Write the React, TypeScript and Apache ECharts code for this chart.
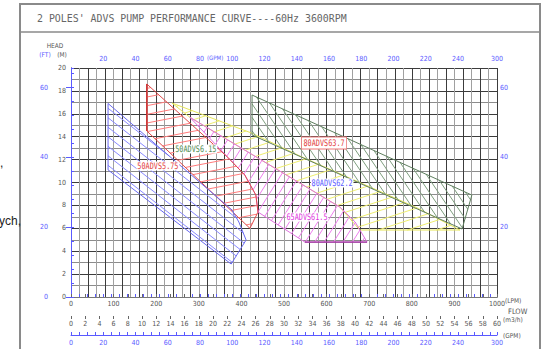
import { useEffect, useRef } from 'react';
import * as echarts from 'echarts';

// ---------- data ----------
const LPM_PER_GPM = 3.78541;
const FT_PER_M = 3.28084;
const LPM_MAX = 1000;
const HEAD_MAX = 20;
const GPM_MAX = LPM_MAX / LPM_PER_GPM;
const FT_MAX = HEAD_MAX * FT_PER_M;

const title = "2 POLES' ADVS PUMP PERFORMANCE CURVE----60Hz 3600RPM";
const lpmLabels = [0, 100, 200, 300, 400, 500, 600, 700, 800, 900, 1000];
const headLabels = [0, 2, 4, 6, 8, 10, 12, 14, 16, 18, 20];
const m3hLabels = [0, 2, 4, 6, 8, 10, 12, 14, 16, 18, 20, 22, 24, 26, 28, 30, 32, 34, 36, 38, 40, 42, 44, 46, 48, 50, 52, 54, 56, 58, 60];
const gpmLabels = [0, 20, 40, 60, 80, 100, 120, 140, 160, 180, 200, 220, 240];
const gpmEndLabel = '300';
const ftLeftLabels = [0, 20, 40, 60];
const ftRightLabels = [20, 40, 60];

// operating regions, [flow LPM, head m]
const bluePoly = [[87, 16.9], [378, 7.6], [394, 6.55], [411, 4.98], [376, 2.88], [87, 11.1]];
const redPoly = [[178, 18.6], [368, 12.2], [408, 10.65], [434, 8.9], [439, 7.42], [420, 6.0], [178, 14.5]];
const yellowPoly = [[237, 16.94], [425, 14.3], [538, 12.3], [808, 7.86], [913, 5.85], [678, 5.85], [631, 7.86], [279, 15.7]];
const magentaPoly = [[279, 15.7], [631, 7.86], [667, 6.55], [695, 4.8], [549, 4.8], [439, 7.42], [434, 8.9], [408, 10.65], [368, 12.2]];
const greenPoly = [[425, 17.64], [941, 8.9], [918, 5.94], [425, 14.15]];

const labelTexts = ['50ADVS5.75', '50ADVS6.15', '80ADVS63.7', '80ADVS62.2', '65ADVS61.5'];
const labelFlow = [204, 293, 594, 613, 554];
const labelHead = [11.44, 12.93, 13.45, 9.96, 6.99];

// ---------- styles ----------
const FONT = "'DejaVu Sans Condensed','Liberation Sans Narrow','Liberation Sans',sans-serif";
const MONO = "'DejaVu Sans Mono','Liberation Mono',monospace";
const BLUE = '#5a5aff';
const GREY = '#555';

const labelColors = ['#e23c3c', '#4f8a4f', '#e23c3c', '#5a5aff', '#dd33dd'];
const labelBorders = ['', '', '#ee7777', '', ''];

type PolyStyle = {
  pts: number[][];
  stroke: string;
  hatch: string;
  angle: number;
  spacing: number;
  phase: number;
  edge?: { i: number; color: string };
};

const polys: PolyStyle[] = [
  { pts: yellowPoly, stroke: '#e6e65a', hatch: '#eeee70', angle: -18, spacing: 9, phase: 0.5 },
  { pts: greenPoly, stroke: '#5f7f5f', hatch: '#7f9f7f', angle: 56, spacing: 7.5, phase: 0.5 },
  { pts: magentaPoly, stroke: '#e070e0', hatch: '#ee80ee', angle: -58, spacing: 8, phase: 0.5, edge: { i: 3, color: '#993399' } },
  { pts: redPoly, stroke: '#e04a4a', hatch: '#ff7b7b', angle: -11, spacing: 8.5, phase: 0.5, edge: { i: 6, color: '#cc2222' } },
  { pts: bluePoly, stroke: '#6a6af0', hatch: '#8a8aff', angle: 38, spacing: 7.5, phase: 0.5 },
];

function hatchLines(pts: number[][], angleDeg: number, spacing: number, phase: number) {
  const a = (angleDeg * Math.PI) / 180;
  const dx = Math.cos(a), dy = Math.sin(a);
  const nx = -dy, ny = dx;
  const proj = pts.map((p) => p[0] * nx + p[1] * ny);
  const lo = Math.min(...proj), hi = Math.max(...proj);
  const out: number[][] = [];
  const n = pts.length;
  for (let c = lo + spacing * phase; c < hi; c += spacing) {
    const ss: number[] = [];
    for (let i = 0; i < n; i++) {
      const j = (i + 1) % n;
      const ci = proj[i], cj = proj[j];
      if ((ci <= c && cj > c) || (cj <= c && ci > c)) {
        const t = (c - ci) / (cj - ci);
        const x = pts[i][0] + t * (pts[j][0] - pts[i][0]);
        const y = pts[i][1] + t * (pts[j][1] - pts[i][1]);
        ss.push(x * dx + y * dy);
      }
    }
    ss.sort((u, v) => u - v);
    for (let k = 0; k + 1 < ss.length; k += 2) {
      out.push([c * nx + ss[k] * dx, c * ny + ss[k] * dy, c * nx + ss[k + 1] * dx, c * ny + ss[k + 1] * dy]);
    }
  }
  return out;
}

function polySeries(p: PolyStyle) {
  return {
    type: 'custom',
    silent: true,
    clip: false,
    xAxisIndex: 0,
    yAxisIndex: 0,
    data: [[0, 0]],
    renderItem: (_params: any, api: any) => {
      const px = p.pts.map((q) => api.coord(q));
      const children: any[] = hatchLines(px, p.angle, p.spacing, p.phase).map((s) => ({
        type: 'line',
        shape: { x1: s[0], y1: s[1], x2: s[2], y2: s[3] },
        style: { stroke: p.hatch, lineWidth: 1 },
      }));
      children.push({ type: 'polygon', shape: { points: px }, style: { fill: 'none', stroke: p.stroke, lineWidth: 1 } });
      if (p.edge) {
        const a = px[p.edge.i], b = px[(p.edge.i + 1) % px.length];
        children.push({ type: 'line', shape: { x1: a[0], y1: a[1], x2: b[0], y2: b[1] }, style: { stroke: p.edge.color, lineWidth: 1.2 } });
      }
      return { type: 'group', children };
    },
  };
}

const labelSeries = {
  type: 'custom',
  silent: true,
  clip: false,
  xAxisIndex: 0,
  yAxisIndex: 0,
  z: 5,
  data: labelTexts.map((_t, i) => [labelFlow[i], labelHead[i]]),
  renderItem: (params: any, api: any) => {
    const i = params.dataIndex;
    const c = api.coord([api.value(0), api.value(1)]);
    const style: any = {
      text: labelTexts[i],
      fill: labelColors[i],
      fontSize: 9,
      fontFamily: MONO,
      align: 'center',
      verticalAlign: 'middle',
      backgroundColor: '#fff',
      padding: [0, 1],
    };
    if (labelBorders[i]) {
      style.borderColor = labelBorders[i];
      style.borderWidth = 1;
      style.padding = [1, 2];
    }
    return { type: 'text', x: c[0], y: c[1], scaleX: 0.76, style };
  },
};

const lab = { fontSize: 7, fontFamily: FONT, color: GREY };
const near = (a: number, b: number) => Math.abs(a - b) < 1e-6;
const gpmFmt = (skipZero: boolean) => (v: number) => {
  if (Math.abs(v - GPM_MAX) < 0.01) return gpmEndLabel;
  if (skipZero && v === 0) return '';
  return gpmLabels.some((g) => near(g, v)) ? String(v) : '';
};

const txt = (text: string, x: number, y: number, fill: string, size: number, align = 'left', family = FONT) => ({
  type: 'text', x, y,
  style: { text, fontSize: size, fontFamily: family, fill, align, verticalAlign: 'middle', textAlign: align, textVerticalAlign: 'middle' },
});

const option: any = {
  animation: false,
  backgroundColor: '#fff',
  grid: { left: 71, top: 68, right: 49, bottom: 52, containLabel: false, outerBoundsMode: 'none' },
  xAxis: [
    {
      type: 'value', position: 'bottom', min: 0, max: LPM_MAX, interval: 20,
      axisLine: { show: true, lineStyle: { color: '#333' } },
      axisTick: { show: false },
      axisLabel: { ...lab, margin: 3, formatter: (v: number) => (lpmLabels.includes(v) ? String(v) : '') },
      splitLine: { show: true, lineStyle: { color: ['#3c3c3c', '#a0a0a0'], width: 1 } },
    },
    {
      type: 'value', position: 'top', min: 0, max: GPM_MAX, interval: 5,
      axisLine: { show: false },
      axisTick: { show: true, length: 3, lineStyle: { color: BLUE } },
      axisLabel: { ...lab, color: BLUE, margin: 6, formatter: gpmFmt(true) },
      splitLine: { show: false },
    },
    {
      type: 'value', position: 'bottom', offset: 19, min: 0, max: 60, interval: 2,
      axisLine: { show: true, lineStyle: { color: '#777' } },
      axisTick: { show: true, inside: true, length: 3, lineStyle: { color: '#666' } },
      axisLabel: { ...lab, margin: 4, formatter: (v: number) => (m3hLabels.includes(v) ? String(v) : '') },
      splitLine: { show: false },
    },
    {
      type: 'value', position: 'bottom', offset: 19, min: 0, max: 60, interval: 2,
      axisLine: { show: false },
      axisTick: { show: true, inside: false, length: 3, lineStyle: { color: '#666' } },
      axisLabel: { show: false },
      splitLine: { show: false },
    },
    {
      type: 'value', position: 'bottom', offset: 38, min: 0, max: GPM_MAX, interval: 5,
      axisLine: { show: true, lineStyle: { color: BLUE } },
      axisTick: { show: true, inside: true, length: 3, lineStyle: { color: BLUE } },
      axisLabel: { ...lab, color: BLUE, margin: 4, formatter: gpmFmt(false) },
      splitLine: { show: false },
    },
  ],
  yAxis: [
    {
      type: 'value', position: 'left', min: 0, max: HEAD_MAX, interval: 1,
      axisLine: { show: true, lineStyle: { color: '#333' } },
      axisTick: { show: false },
      axisLabel: { ...lab, margin: 5, formatter: (v: number) => (headLabels.includes(v) ? String(v) : '') },
      splitLine: { show: true, lineStyle: { color: ['#3c3c3c', '#8c8c8c'], width: 1 } },
    },
    {
      type: 'value', position: 'left', offset: 19, min: 0, max: FT_MAX, interval: 20,
      axisLine: { show: true, lineStyle: { color: BLUE } },
      axisTick: { show: true, length: 5, lineStyle: { color: BLUE }, customValues: ftLeftLabels },
      axisLabel: { ...lab, color: BLUE, margin: 4, customValues: ftLeftLabels, formatter: (v: number) => (ftLeftLabels.includes(v) ? String(v) : '') },
      splitLine: { show: false },
    },
    {
      type: 'value', position: 'right', offset: 0, min: 0, max: FT_MAX, interval: 4,
      axisLine: { show: false },
      axisTick: { show: true, length: 3, lineStyle: { color: BLUE } },
      axisLabel: { ...lab, color: BLUE, margin: 3, formatter: (v: number) => (ftRightLabels.includes(v) ? String(v) : '') },
      splitLine: { show: false },
    },
  ],
  graphic: [
    { type: 'rect', shape: { x: 20, y: 4, width: 520, height: 400 }, style: { fill: 'none', stroke: '#8a8a8a', lineWidth: 2 } },
    { type: 'line', shape: { x1: 20, y1: 32, x2: 540, y2: 32 }, style: { stroke: '#8a8a8a', lineWidth: 1.5 } },
    { type: 'text', x: 37, y: 18, scaleX: 0.9, style: { text: title, fontSize: 11, fontFamily: MONO, fill: '#666', align: 'left', verticalAlign: 'middle', textAlign: 'left', textVerticalAlign: 'middle' } },
    txt('HEAD', 55, 46, '#555', 6.5, 'center'),
    txt('(FT)', 45, 55, BLUE, 6.5, 'center'),
    txt('(M)', 62, 55, '#555', 6.5, 'center'),
    txt('(GPM)', 207, 57, BLUE, 6, 'left'),
    txt('(LPM)', 505, 301, '#555', 6.5, 'left'),
    txt('FLOW', 508, 311, '#555', 7.5, 'left'),
    txt('(m3/h)', 503, 320, '#555', 6.5, 'left'),
    txt('(GPM)', 503, 336, '#555', 6.5, 'left'),
    txt(',', 0, 163, '#222', 12, 'left', 'Liberation Sans, sans-serif'),
    txt('ych,', -1, 221, '#222', 12, 'left', 'Liberation Sans, sans-serif'),
  ],
  series: [...polys.map(polySeries), labelSeries],
};

export default function App() {
  const ref = useRef<HTMLDivElement>(null);
  useEffect(() => {
    const chart = echarts.init(ref.current!, null, { renderer: 'svg' });
    chart.setOption(option);
    return () => chart.dispose();
  }, []);
  return <div ref={ref} style={{ position: 'absolute', left: 0, top: 0, width: 546, height: 349 }} />;
}
